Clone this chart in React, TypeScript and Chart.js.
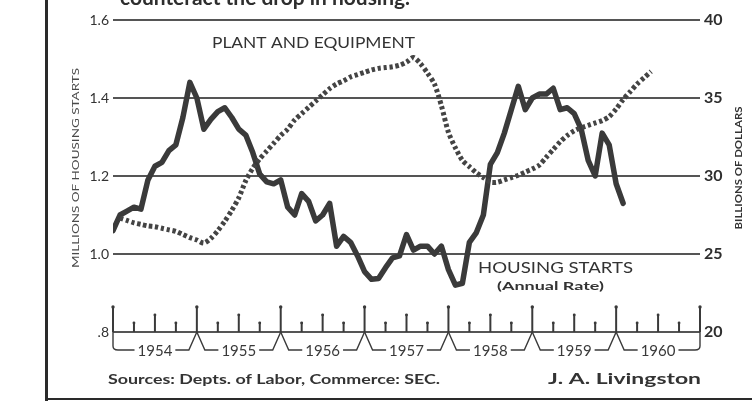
import React, { useEffect, useRef } from 'react';
import { Chart, registerables } from 'chart.js';

Chart.register(...registerables);

// Monthly housing starts (millions, annual rate), Jan 1954 onward
const housingStarts = [
  1.06, 1.10, 1.11, 1.12, 1.115, 1.19, 1.225, 1.235, 1.265, 1.28,
  1.35, 1.44, 1.40, 1.32, 1.345, 1.365, 1.375, 1.35, 1.32, 1.305,
  1.26, 1.205, 1.185, 1.18, 1.19, 1.12, 1.10, 1.155, 1.135, 1.085,
  1.10, 1.13, 1.02, 1.045, 1.03, 0.995, 0.955, 0.935, 0.937, 0.965,
  0.99, 0.995, 1.05, 1.01, 1.02, 1.02, 1.00, 1.02, 0.96, 0.92,
  0.925, 1.03, 1.055, 1.10, 1.23, 1.26, 1.31, 1.37, 1.43, 1.37,
  1.40, 1.41, 1.41, 1.425, 1.37, 1.375, 1.36, 1.32, 1.24, 1.20,
  1.31, 1.28, 1.18, 1.13,
];

// Plant and equipment spending (billions of dollars), from Feb 1954
const PLANT_FIRST_MONTH = 1;
const plantEquipment = [
  27.3, 27.15, 27.0, 26.9, 26.8, 26.75, 26.65, 26.55, 26.45, 26.25,
  26.05, 25.9, 25.7, 26.0, 26.5, 27.1, 27.8, 28.6, 29.7, 30.5,
  31.1, 31.6, 32.1, 32.6, 33.0, 33.6, 34.0, 34.4, 34.8, 35.2,
  35.6, 35.9, 36.1, 36.35, 36.5, 36.65, 36.8, 36.9, 36.95, 37.0,
  37.1, 37.3, 37.6, 37.2, 36.6, 35.9, 34.5, 32.8, 31.8, 31.0,
  30.6, 30.2, 29.9, 29.6, 29.6, 29.75, 29.9, 30.05, 30.25, 30.45,
  30.7, 31.2, 31.7, 32.2, 32.6, 32.9, 33.1, 33.25, 33.4, 33.55,
  33.8, 34.3, 34.9, 35.4, 35.9, 36.3, 36.7,
];

const years = ['1954', '1955', '1956', '1957', '1958', '1959', '1960'];
const leftTickLabels = ['.8', '1.0', '1.2', '1.4', '1.6'];
const rightTickLabels = ['20', '25', '30', '35', '40'];

const TITLE = 'counteract the drop in housing.';
const LEFT_TITLE = 'MILLIONS OF HOUSING STARTS';
const RIGHT_TITLE = 'BILLIONS OF DOLLARS';
const PLANT_LABEL = 'PLANT AND EQUIPMENT';
const HOUSING_LABEL = 'HOUSING STARTS';
const HOUSING_SUB = '(Annual Rate)';
const SOURCE = 'Sources: Depts. of Labor, Commerce: SEC.';
const AUTHOR = 'J. A. Livingston';

const INK = '#3a3a3a';
const FONT = 'Lato, "DejaVu Sans", sans-serif';

function fitText(ctx: CanvasRenderingContext2D, text: string, x: number, y: number, width: number, font: string, baseline: CanvasTextBaseline = 'middle') {
  ctx.save();
  ctx.font = font;
  ctx.textBaseline = baseline;
  ctx.textAlign = 'left';
  const w = ctx.measureText(text).width;
  const s = width / w;
  ctx.translate(x, y);
  ctx.scale(s, 1);
  ctx.fillText(text, 0, 0);
  ctx.restore();
}

function fitTextVertical(ctx: CanvasRenderingContext2D, text: string, cx: number, cy: number, length: number, font: string) {
  ctx.save();
  ctx.font = font;
  ctx.textBaseline = 'middle';
  ctx.textAlign = 'center';
  const w = ctx.measureText(text).width;
  const s = length / w;
  ctx.translate(cx, cy);
  ctx.rotate(-Math.PI / 2);
  ctx.scale(s, 1);
  ctx.fillText(text, 0, 0);
  ctx.restore();
}

const decorPlugin = {
  id: 'decor',
  beforeDatasetsDraw(chart: any) {
    const ctx: CanvasRenderingContext2D = chart.ctx;
    const xs = chart.scales.x;
    const area = chart.chartArea;
    const ax = area.bottom;
    ctx.save();
    ctx.strokeStyle = INK;
    ctx.fillStyle = INK;
    // quarter tick marks
    for (let q = 0; q <= years.length * 4; q++) {
      const x = xs.getPixelForValue(q * 3);
      const k = q % 4;
      const h = k === 0 ? 26 : k === 2 ? 18 : 10;
      ctx.lineWidth = 2;
      ctx.beginPath();
      ctx.moveTo(x, ax);
      ctx.lineTo(x, ax - h);
      ctx.stroke();
      ctx.beginPath();
      ctx.arc(x, ax - h + 1, k === 0 ? 1.7 : 1.4, 0, Math.PI * 2);
      ctx.fill();
    }
    // year brackets and labels
    const by = ax + 18;
    ctx.lineWidth = 1.4;
    ctx.font = `15px ${FONT}`;
    ctx.textAlign = 'center';
    ctx.textBaseline = 'middle';
    years.forEach((yr, i) => {
      const start = xs.getPixelForValue(i * 12);
      const end = xs.getPixelForValue((i + 1) * 12);
      const mid = (start + end) / 2;
      const w = ctx.measureText(yr).width;
      ctx.beginPath();
      if (i === 0) {
        ctx.moveTo(start, ax);
        ctx.lineTo(start, by - 4);
        ctx.quadraticCurveTo(start, by, start + 5, by);
      } else {
        ctx.moveTo(start, ax);
        ctx.lineTo(start + 8, by);
      }
      ctx.lineTo(mid - w / 2 - 3, by);
      ctx.moveTo(mid + w / 2 + 3, by);
      if (i === years.length - 1) {
        ctx.lineTo(end - 5, by);
        ctx.quadraticCurveTo(end, by, end, by - 4);
        ctx.lineTo(end, ax);
      } else {
        ctx.lineTo(end - 8, by);
        ctx.lineTo(end, ax);
      }
      ctx.stroke();
      ctx.fillText(yr, mid, by + 1);
    });
    ctx.restore();
  },
  afterDraw(chart: any) {
    const ctx: CanvasRenderingContext2D = chart.ctx;
    ctx.save();
    ctx.strokeStyle = '#2a2a2a';
    ctx.fillStyle = '#2e2e2e';
    // frame
    ctx.lineWidth = 3;
    ctx.beginPath();
    ctx.moveTo(46.5, 0);
    ctx.lineTo(46.5, 401);
    ctx.stroke();
    ctx.lineWidth = 2;
    ctx.beginPath();
    ctx.moveTo(45, 399);
    ctx.lineTo(752, 399);
    ctx.stroke();
    // cut-off headline
    fitText(ctx, TITLE, 120, 4.5, 290, `bold 21px ${FONT}`, 'alphabetic');
    // axis titles
    ctx.fillStyle = '#4a4a4a';
    fitTextVertical(ctx, LEFT_TITLE, 76, 168, 200, `10px ${FONT}`);
    ctx.fillStyle = '#333';
    fitTextVertical(ctx, RIGHT_TITLE, 739, 168, 123, `bold 9px ${FONT}`);
    // series labels
    fitText(ctx, PLANT_LABEL, 212, 43, 203, `15px ${FONT}`);
    fitText(ctx, HOUSING_LABEL, 478, 268, 155, `15px ${FONT}`);
    fitText(ctx, HOUSING_SUB, 497, 286, 107, `bold 12px ${FONT}`);
    // footer
    fitText(ctx, SOURCE, 108, 380, 332, `bold 13px ${FONT}`);
    fitText(ctx, AUTHOR, 548, 379, 153, `bold 16px ${FONT}`);
    ctx.restore();
  },
};

export default function App() {
  const ref = useRef<HTMLCanvasElement | null>(null);
  useEffect(() => {
    if (!ref.current) return;
    const chart = new Chart(ref.current, {
      type: 'line',
      data: {
        datasets: [
          {
            label: 'Plant and Equipment',
            data: plantEquipment.map((v, i) => ({ x: i + PLANT_FIRST_MONTH, y: v })),
            yAxisID: 'y2',
            borderColor: '#444',
            borderWidth: 5,
            borderDash: [3.4, 2.6],
            pointRadius: 0,
            tension: 0.25,
            fill: false,
          },
          {
            label: 'Housing Starts',
            data: housingStarts.map((v, i) => ({ x: i, y: v })),
            yAxisID: 'y',
            borderColor: INK,
            borderWidth: 5.5,
            borderJoinStyle: 'round',
            borderCapStyle: 'round',
            pointRadius: 0,
            tension: 0,
            fill: false,
          },
        ],
      },
      options: {
        animation: false,
        responsive: false,
        devicePixelRatio: 1,
        layout: { padding: { left: 0, right: 0, top: 20, bottom: 69 } },
        plugins: { legend: { display: false }, tooltip: { enabled: false } },
        scales: {
          x: {
            type: 'linear',
            min: 0,
            max: years.length * 12,
            display: false,
          },
          y: {
            position: 'left',
            min: 0.8,
            max: 1.6,
            afterFit: (s: any) => { s.width = 113; },
            border: { display: false },
            grid: { color: '#555', lineWidth: 2, drawTicks: false },
            ticks: {
              stepSize: 0.2,
              padding: 4,
              color: '#333',
              font: { family: FONT, size: 14 },
              callback: (v: any) => leftTickLabels[Math.round((Number(v) - 0.8) / 0.2)],
            },
          },
          y2: {
            position: 'right',
            min: 20,
            max: 40,
            afterFit: (s: any) => { s.width = 52; },
            border: { display: false },
            grid: { display: false, drawTicks: false },
            ticks: {
              stepSize: 5,
              padding: 4,
              color: '#2e2e2e',
              font: { family: FONT, size: 16, weight: 'bold' },
              callback: (v: any) => rightTickLabels[Math.round((Number(v) - 20) / 5)],
            },
          },
        },
      },
      plugins: [decorPlugin],
    } as any);
    return () => chart.destroy();
  }, []);
  return (
    <div style={{ position: 'fixed', left: 0, top: 0, width: 752, height: 401, background: '#fff' }}>
      <canvas ref={ref} width={752} height={401} style={{ display: 'block', width: 752, height: 401 }} />
    </div>
  );
}
